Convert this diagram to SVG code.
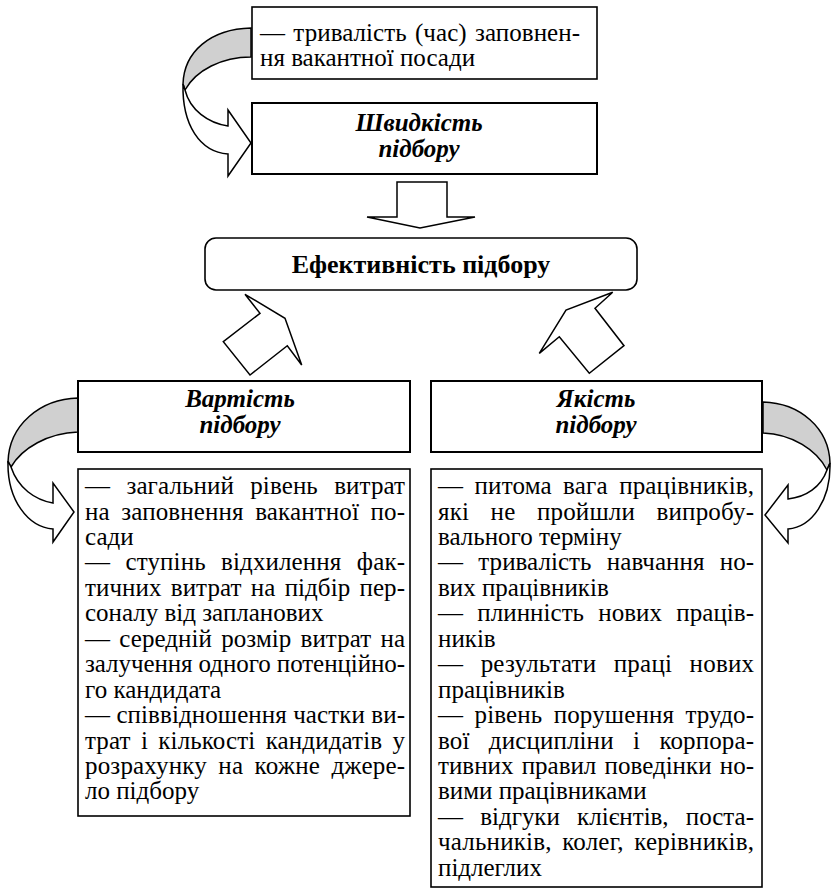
<svg xmlns="http://www.w3.org/2000/svg" width="831" height="892" viewBox="0 0 831 892">
<style>
  .box{fill:#fff;stroke:#000;stroke-width:1.6}
  .hbox{fill:#fff;stroke:#000;stroke-width:2}
  .arr{fill:#fff;stroke:#000;stroke-width:1.5;stroke-linejoin:miter}
  .back{fill:#d0d0d0;stroke:#000;stroke-width:1.5}
  text{font-family:"Liberation Serif","DejaVu Serif",serif}
  .t{font-size:25px;fill:#000}
  .h{font-size:25px;font-weight:bold;font-style:italic;fill:#000;text-anchor:middle}
  .hb{font-size:26px;font-weight:bold;fill:#000;text-anchor:middle}
</style>
<rect width="831" height="892" fill="#fff"/>

<g id="connectors">
  <path class="back" d="M251,28 C210,29 184,52 183,84 L185,90 C196,70 222,57 251,57 Z"/>
  <path class="arr" d="M183,84 C182,125 200,152 228,154 L228,176 L251,143 L228,110 L228,126 C208,123 190,110 185,90 Z"/>
  <path class="arr" d="M397,182 L447,182 L447,217 L475,217 L420,228 L367,217 L397,217 Z"/>
  <path class="arr" d="M245,294.3 L285,318.3 L301.7,365 L287.3,345.7 L250,375 L223.3,341.7 L260,313.3 Z"/>
  <path class="arr" d="M612.7,292.3 L566,310 L539.3,353.3 L559.3,336.7 L589.3,373.3 L624,345.7 L595,308.3 Z"/>
  <path class="back" d="M78,398 C40,399 9,425 8,462 L11,467 C22,448 48,433 78,432 Z"/>
  <path class="arr" d="M8,461 C7,500 28,527 53,529 L53,542 L74,512 L53,483 L53,503 C35,500 18,488 11,467 Z"/>
  <path class="back" d="M763,402 C800,403 829,428 830,463 L827,470 C817,450 792,434 763,433 Z"/>
  <path class="arr" d="M830,463 C831,500 812,527 788,529 L788,543 L765,515 L788,485 L788,499 C806,497 821,487 827,470 Z"/>
</g>

<g id="time-box">
  <rect class="box" x="252" y="7" width="345" height="72"/>
  <text class="t" x="260" y="41" textLength="320" lengthAdjust="spacing" style="word-spacing:2px">— тривалість (час) заповнен-</text>
  <text class="t" x="260" y="66">ня вакантної посади</text>
</g>

<g id="speed">
  <rect class="hbox" x="252" y="103" width="345" height="71"/>
  <text class="h" x="419" y="131">Швидкість</text>
  <text class="h" x="419" y="157">підбору</text>
</g>

<g id="efficiency">
  <rect class="box" x="205" y="238" width="432" height="52" rx="11" ry="11"/>
  <text class="hb" x="421" y="273">Ефективність підбору</text>
</g>

<g id="cost">
  <rect class="hbox" x="78" y="381" width="332" height="71"/>
  <text class="h" x="240" y="407">Вартість</text>
  <text class="h" x="240" y="433">підбору</text>
</g>

<g id="quality">
  <rect class="hbox" x="431" y="381" width="331" height="71"/>
  <text class="h" x="596" y="407">Якість</text>
  <text class="h" x="596" y="433">підбору</text>
</g>

<g id="cost-list">
  <rect class="box" x="78" y="469" width="332" height="347"/>
  <text class="t" x="85" y="494" textLength="320" lengthAdjust="spacing" style="word-spacing:10px">— загальний рівень витрат</text>
  <text class="t" x="85" y="519.5" textLength="320" lengthAdjust="spacing" style="word-spacing:5px">на заповнення вакантної по-</text>
  <text class="t" x="85" y="544.9">сади</text>
  <text class="t" x="85" y="570.4" textLength="320" lengthAdjust="spacing" style="word-spacing:9px">— ступінь відхилення фак-</text>
  <text class="t" x="85" y="595.8" textLength="320" lengthAdjust="spacing" style="word-spacing:3px">тичних витрат на підбір пер-</text>
  <text class="t" x="85" y="621.3">соналу від запланових</text>
  <text class="t" x="85" y="646.7" textLength="320" lengthAdjust="spacing" style="word-spacing:3px">— середній розмір витрат на</text>
  <text class="t" x="85" y="672.2" textLength="320" lengthAdjust="spacing">залучення одного потенційно-</text>
  <text class="t" x="85" y="697.6">го кандидата</text>
  <text class="t" x="85" y="723.1" textLength="320" lengthAdjust="spacing">— співвідношення частки ви-</text>
  <text class="t" x="85" y="748.5" textLength="320" lengthAdjust="spacing" style="word-spacing:4px">трат і кількості кандидатів у</text>
  <text class="t" x="85" y="774" textLength="320" lengthAdjust="spacing" style="word-spacing:5px">розрахунку на кожне джере-</text>
  <text class="t" x="85" y="799.4">ло підбору</text>
</g>

<g id="quality-list">
  <rect class="box" x="431" y="469" width="331" height="418"/>
  <text class="t" x="438" y="494" textLength="316" lengthAdjust="spacing" style="word-spacing:5px">— питома вага працівників,</text>
  <text class="t" x="438" y="519.5" textLength="316" lengthAdjust="spacing" style="word-spacing:15px">які не пройшли випробу-</text>
  <text class="t" x="438" y="544.9">вального терміну</text>
  <text class="t" x="438" y="570.4" textLength="316" lengthAdjust="spacing" style="word-spacing:9px">— тривалість навчання но-</text>
  <text class="t" x="438" y="595.8">вих працівників</text>
  <text class="t" x="438" y="621.3" textLength="316" lengthAdjust="spacing" style="word-spacing:8px">— плинність нових праців-</text>
  <text class="t" x="438" y="646.7">ників</text>
  <text class="t" x="438" y="672.2" textLength="316" lengthAdjust="spacing" style="word-spacing:11px">— результати праці нових</text>
  <text class="t" x="438" y="697.6">працівників</text>
  <text class="t" x="438" y="723.1" textLength="316" lengthAdjust="spacing" style="word-spacing:5px">— рівень порушення трудо-</text>
  <text class="t" x="438" y="748.5" textLength="316" lengthAdjust="spacing" style="word-spacing:13px">вої дисципліни і корпора-</text>
  <text class="t" x="438" y="774" textLength="316" lengthAdjust="spacing" style="word-spacing:2px">тивних правил поведінки но-</text>
  <text class="t" x="438" y="799.4">вими працівниками</text>
  <text class="t" x="438" y="824.9" textLength="316" lengthAdjust="spacing" style="word-spacing:11px">— відгуки клієнтів, поста-</text>
  <text class="t" x="438" y="850.3" textLength="316" lengthAdjust="spacing" style="word-spacing:4px">чальників, колег, керівників,</text>
  <text class="t" x="438" y="875.8">підлеглих</text>
</g>
</svg>
